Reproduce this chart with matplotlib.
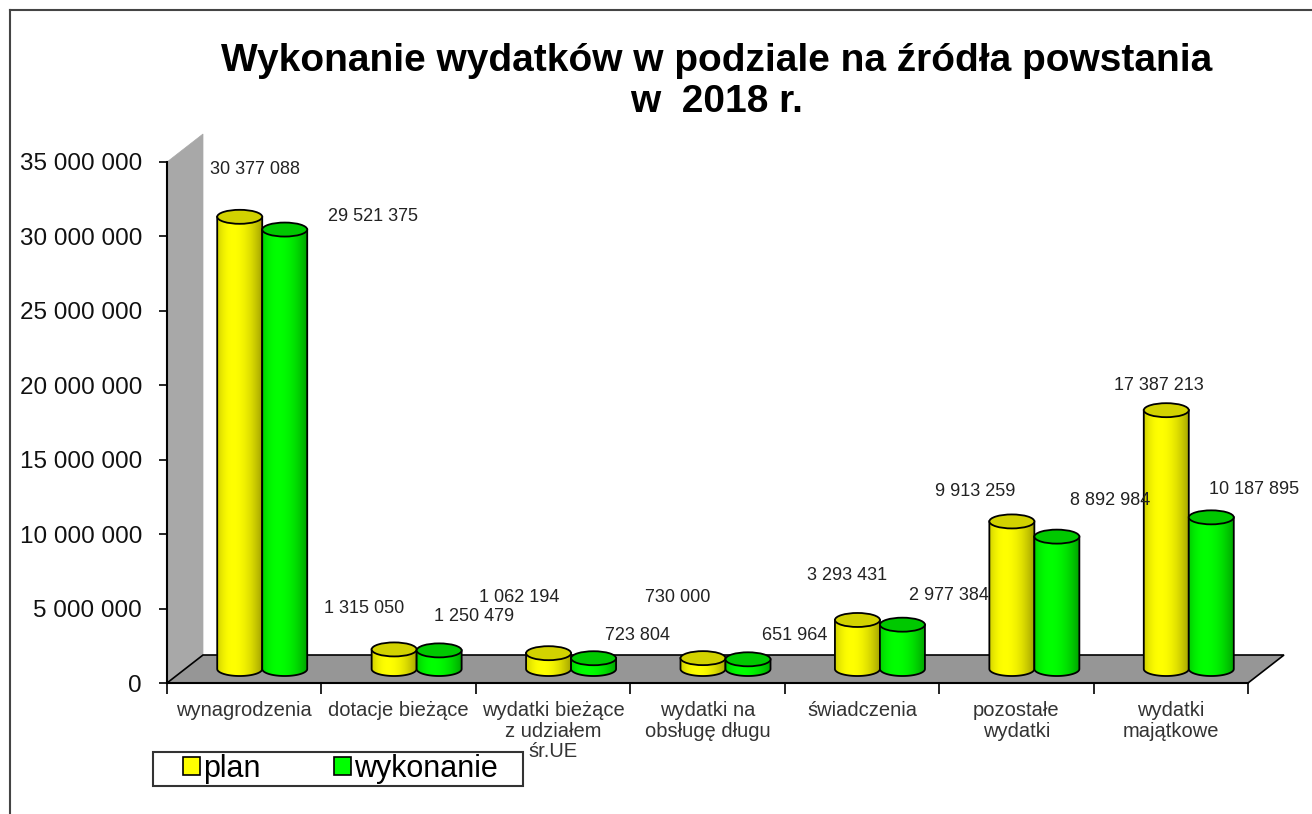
import numpy as np
import matplotlib.pyplot as plt
from matplotlib.patches import Polygon, Ellipse, Patch, Rectangle
from matplotlib.lines import Line2D

categories = ['wynagrodzenia', 'dotacje bieżące', 'wydatki bieżące\nz udziałem\nśr.UE',
              'wydatki na\nobsługę długu', 'świadczenia', 'pozostałe\nwydatki', 'wydatki\nmajątkowe']
plan = [30377088, 1315050, 1062194, 730000, 3293431, 9913259, 17387213]
wykonanie = [29521375, 1250479, 723804, 651964, 2977384, 8892984, 10187895]
series_names = ['plan', 'wykonanie']

# label offsets in pixels (right, up) from the top of each cylinder
plan_off = [(15, 47), (-30, 41), (-29, 56), (-25, 61), (-10, 44), (-37, 30), (-7, 25)]
wyk_off = [(88, 13), (35, 34), (44, 23), (47, 24), (47, 29), (53, 36), (43, 28)]

plt.rcParams['font.family'] = ['Liberation Sans', 'DejaVu Sans']

W, H = 1312, 814
fig = plt.figure(figsize=(W / 100, H / 100), dpi=100)
fig.patch.set_facecolor('white')

ax_l, ax_r, ax_t, ax_b = 167, 1248, 162, 683
ax = fig.add_axes([ax_l / W, 1 - ax_b / H, (ax_r - ax_l) / W, (ax_b - ax_t) / H])
ax.patch.set_visible(False)

ymax = 35e6
n = len(categories)
px_x = (ax_r - ax_l) / n          # pixels per category
px_y = (ax_b - ax_t) / ymax       # pixels per unit value
depth_x = 36 / px_x
depth_y = 28 / px_y
ell_h = 14 / px_y
cyl_w = 45 / px_x
shift = 22.5 / px_x


def fmt(v):
    return f'{v:,.0f}'.replace(',', ' ')


def shade(rgb, N=60):
    t = np.linspace(0, 1, N)
    f = np.where(t < 0.35, 1 - 0.18 * ((0.35 - t) / 0.35) ** 2,
                 1 - 0.35 * ((t - 0.35) / 0.65) ** 2)
    img = np.array(rgb)[None, None, :] * f[None, :, None]
    return np.clip(img, 0, 1)


def cylinder(xc, base, top, rgb, top_color, z):
    x0, x1 = xc - cyl_w / 2, xc + cyl_w / 2
    th = np.linspace(np.pi, 2 * np.pi, 50)
    bx = xc + cyl_w / 2 * np.cos(th)
    by = base + ell_h / 2 * np.sin(th)
    verts = [(x0, top)] + list(zip(bx, by)) + [(x1, top)]
    body = Polygon(verts, closed=True, facecolor='none', edgecolor='black',
                   lw=1.3, zorder=z + 0.2)
    ax.add_patch(body)
    im = ax.imshow(shade(rgb), extent=(x0, x1, base - ell_h / 2, top),
                   aspect='auto', zorder=z, interpolation='bilinear')
    im.set_clip_path(body)
    ax.add_patch(Ellipse((xc, top), cyl_w, ell_h, facecolor=top_color,
                         edgecolor='black', lw=1.3, zorder=z + 0.3))


# side wall and floor
wall = Polygon([(0, 0), (0, ymax), (depth_x, ymax + depth_y), (depth_x, depth_y)],
               closed=True, facecolor='#a8a8a8', edgecolor='#a8a8a8', lw=0.5,
               clip_on=False, zorder=1)
ax.add_patch(wall)
floor = Polygon([(0, 0), (n, 0), (n + depth_x, depth_y), (depth_x, depth_y)],
                closed=True, facecolor='#969696', edgecolor='black', lw=1.2,
                clip_on=False, zorder=2)
ax.add_patch(floor)

base = depth_y / 2
z = 5
for i in range(n):
    xc = i + 0.5 + depth_x / 2
    cylinder(xc - shift, base, base + plan[i], (1, 1, 0), '#d2d200', z)
    z += 1
    cylinder(xc + shift, base, base + wykonanie[i], (0, 1, 0), '#00c800', z)
    z += 1
    ax.annotate(fmt(plan[i]), (xc - shift, base + plan[i]), xytext=plan_off[i],
                textcoords='offset pixels', ha='center', va='center',
                fontsize=13, color='#222222', zorder=50)
    ax.annotate(fmt(wykonanie[i]), (xc + shift, base + wykonanie[i]), xytext=wyk_off[i],
                textcoords='offset pixels', ha='center', va='center',
                fontsize=13, color='#222222', zorder=50)

ax.set_xlim(0, n)
ax.set_ylim(0, ymax)
for s in ['top', 'right']:
    ax.spines[s].set_visible(False)
ax.spines['left'].set_linewidth(1.5)
ax.spines['bottom'].set_linewidth(1.5)
ax.spines['left'].set_zorder(3)
ax.spines['bottom'].set_zorder(3)

yt = np.arange(0, ymax + 1, 5e6)
ax.set_yticks(yt)
ax.set_yticklabels([fmt(v) for v in yt], fontsize=17.5, color='#111111')
ax.tick_params(axis='y', length=6, width=1.2, pad=12)
ax.set_xticks(np.arange(0, n + 1))
ax.set_xticklabels([])
ax.tick_params(axis='x', which='major', length=8, width=1.2)
ax.set_xticks(np.arange(n) + 0.5, minor=True)
ax.set_xticklabels(categories, minor=True, fontsize=14.5, color='#333333',
                   linespacing=1.1, va='top')
ax.tick_params(axis='x', which='minor', length=0, pad=13)

# title
fig.text(0.546, 1 - 61 / H, 'Wykonanie wydatków w podziale na źródła powstania',
         ha='center', va='center', fontsize=28, fontweight='bold')
fig.text(0.546, 1 - 102 / H, 'w  2018 r.', ha='center', va='center',
         fontsize=28, fontweight='bold')

# legend: frame drawn separately, entries placed inside
fig.add_artist(Rectangle((153 / W, 1 - 786 / H), 370 / W, 34 / H, transform=fig.transFigure,
                         facecolor='white', edgecolor='#333333', lw=1.5, zorder=4))
handles = [Patch(facecolor='#ffff00', edgecolor='black', lw=1.2),
           Patch(facecolor='#00ff00', edgecolor='black', lw=1.2)]
leg = fig.legend(handles, series_names, loc='center left', ncol=2,
                 bbox_to_anchor=(183 / W, 1 - 769 / H), fontsize=22,
                 handlelength=0.55, handleheight=0.55, handletextpad=0.1,
                 columnspacing=2.4, borderpad=0.0, borderaxespad=0.0,
                 frameon=False)
leg.set_zorder(5)

# outer frame (left and top)
fig.add_artist(Line2D([10 / W, 10 / W], [0, 1 - 10 / H], color='#444444', lw=1.5))
fig.add_artist(Line2D([10 / W, 1], [1 - 10 / H, 1 - 10 / H], color='#444444', lw=1.5))

fig.savefig('out.png', dpi=100)
